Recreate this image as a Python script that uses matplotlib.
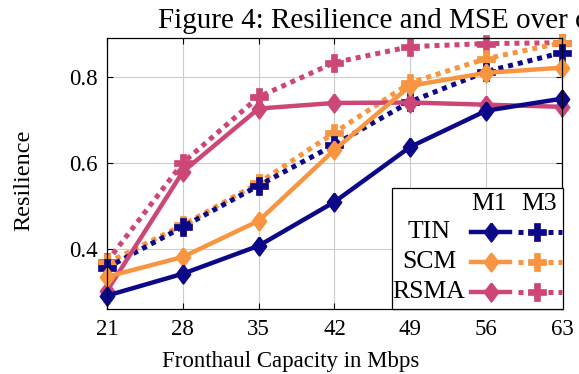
import matplotlib
matplotlib.use('Agg')
import matplotlib.pyplot as plt
from matplotlib.patches import Rectangle

plt.rcParams['font.family'] = ['Liberation Serif', 'DejaVu Serif']

# data
capacity = [21, 28, 35, 42, 49, 56, 63]
tin_m1 = [0.291, 0.342, 0.407, 0.509, 0.637, 0.721, 0.749]
scm_m1 = [0.335, 0.381, 0.465, 0.630, 0.779, 0.809, 0.821]
rsma_m1 = [0.302, 0.579, 0.726, 0.739, 0.740, 0.735, 0.730]
tin_m3 = [0.356, 0.451, 0.547, 0.642, 0.742, 0.812, 0.856]
scm_m3 = [0.367, 0.455, 0.553, 0.670, 0.786, 0.842, 0.879]
rsma_m3 = [0.370, 0.600, 0.753, 0.833, 0.870, 0.877, 0.879]
yticks = [0.4, 0.6, 0.8]
schemes = ['TIN', 'SCM', 'RSMA']

c_tin = '#0d0887'
c_scm = '#f89540'
c_rsma = '#cc4778'
colors = [c_tin, c_scm, c_rsma]

# pgfplots-like diamond, a bit taller than wide
diamond = [(0, 1), (0.75, 0), (0, -1), (-0.75, 0), (0, 1)]

W, H = 579, 374
fig = plt.figure(figsize=(W / 100, H / 100), dpi=100)
L, R, B, T = 107, 562, 309, 38
ax = fig.add_axes([L / W, 1 - B / H, (R - L) / W, (B - T) / H])

solid = dict(lw=3.2, marker=diamond, ms=13, mew=1.6, clip_on=False)
dotted = dict(lw=3.6, ls=(0, (1, 1)), dash_capstyle='butt', marker='P', ms=12.5,
              mew=0.5, clip_on=False)

for m3, c in zip([rsma_m3, scm_m3, tin_m3], [c_rsma, c_scm, c_tin]):
    ax.plot(capacity, m3, color=c, mec=c, **dotted)
for m1, c in zip([rsma_m1, scm_m1, tin_m1], [c_rsma, c_scm, c_tin]):
    ax.plot(capacity, m1, color=c, mec=c, mfc=c, **solid)

ax.set_xlim(21, 63)
ax.set_ylim(0.26, 0.89)
ax.set_xticks(capacity)
ax.set_yticks(yticks)
ax.set_yticklabels([str(v) for v in yticks])
ax.grid(True, color='#cccccc', lw=0.8)
ax.set_axisbelow(True)
ax.tick_params(direction='in', length=4, width=0.8, labelsize=16.5, pad=7,
               top=True, right=True, colors='black')
for s in ax.spines.values():
    s.set_linewidth(0.9)

ax.set_ylabel('Resilience', fontsize=17.5, va='center', ha='center')
ax.yaxis.set_label_coords((24 - L) / (R - L), (B - 180) / (B - T))
ax.set_xlabel('Fronthaul Capacity in Mbps', fontsize=16.5, va='center', ha='center')
ax.xaxis.set_label_coords((291 - L) / (R - L), (B - 362) / (B - T))


# custom legend in pixel-like coordinates
def fx(x):
    return (x - L) / (R - L)


def fy(y):
    return (B - y) / (B - T)


ax.add_patch(Rectangle((fx(392), fy(309)), fx(563) - fx(392), fy(188) - fy(309),
                       transform=ax.transAxes, facecolor='white', edgecolor='black',
                       lw=0.9, zorder=10, clip_on=False))
ax.text(fx(489), fy(204), 'M1', transform=ax.transAxes, ha='center', va='center',
        fontsize=18.5, zorder=11)
ax.text(fx(539), fy(204), 'M3', transform=ax.transAxes, ha='center', va='center',
        fontsize=18.5, zorder=11)
for name, c, y in zip(schemes, colors, [232, 262, 292]):
    ax.text(fx(429), fy(y), name, transform=ax.transAxes, ha='center', va='center',
            fontsize=18.5, zorder=11)
    ax.plot([fx(471), fx(510)], [fy(y), fy(y)], transform=ax.transAxes, color=c,
            lw=3.2, zorder=11, clip_on=False)
    ax.plot([fx(491)], [fy(y)], transform=ax.transAxes, color=c, marker=diamond,
            ms=13, mew=1.6, zorder=12, clip_on=False)
    ax.plot([fx(518), fx(562)], [fy(y), fy(y)], transform=ax.transAxes, color=c,
            lw=3.6, ls=(0, (1, 1)), dash_capstyle='butt', zorder=11, clip_on=False)
    ax.plot([fx(537)], [fy(y)], transform=ax.transAxes, color=c, marker='P', ms=12.5,
            mew=0.5, zorder=12, clip_on=False)

fig.text(158 / W, 1 - 28 / H, 'Figure 4: Resilience and MSE over capacity',
         fontsize=21, ha='left', va='baseline')

fig.savefig('out.png', dpi=100)
